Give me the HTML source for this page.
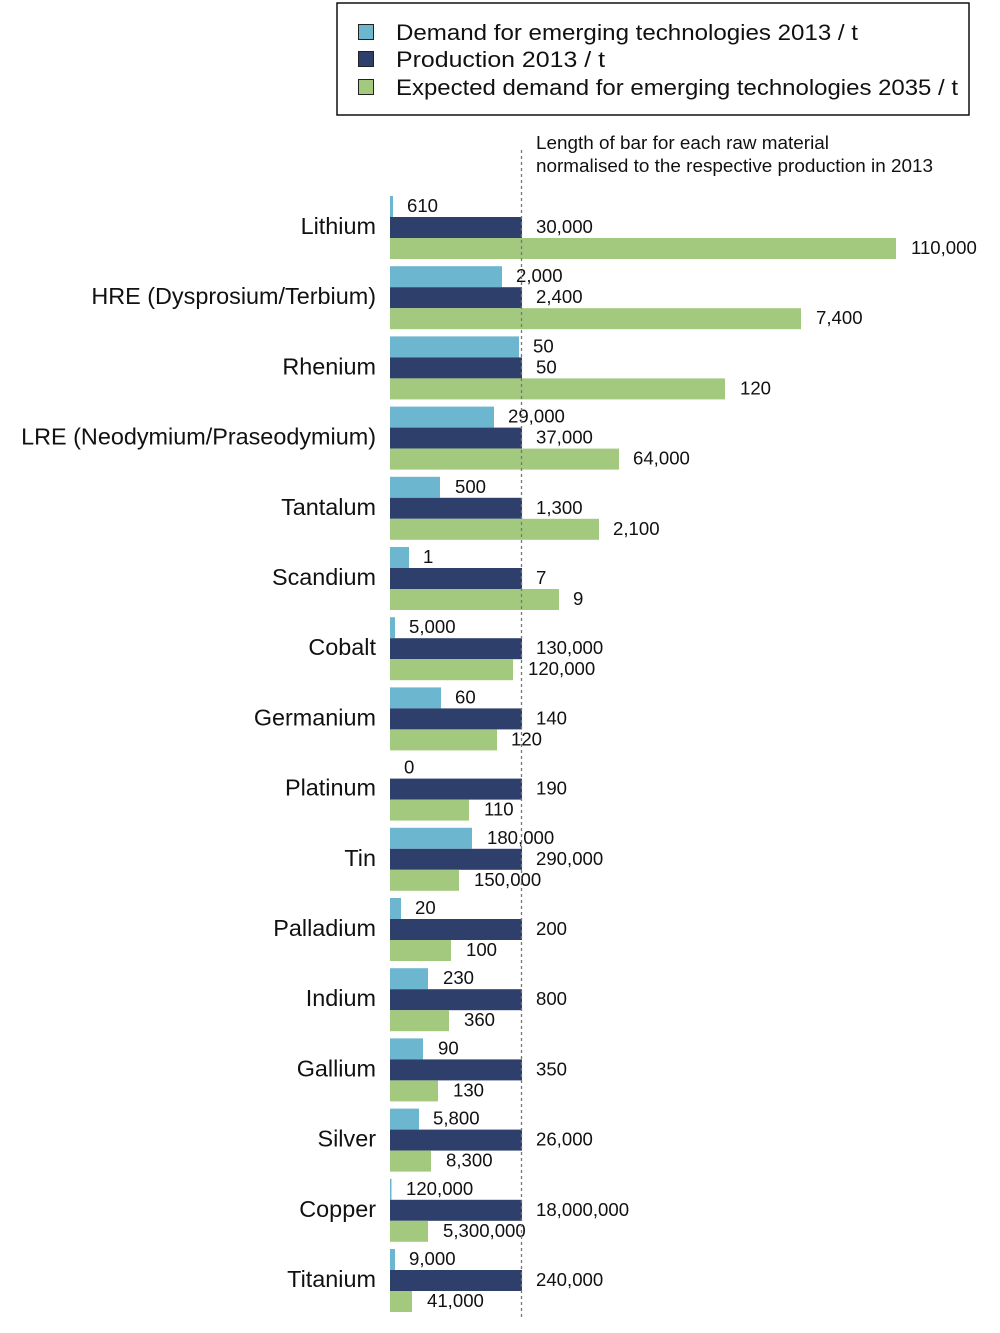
<!DOCTYPE html>
<html><head><meta charset="utf-8"><style>
html,body{margin:0;padding:0;background:#fff;}
svg{display:block;font-family:"Liberation Sans",Arial,sans-serif;}
.c{font-size:23.4px;fill:#111;text-anchor:end;}
.v{font-size:18.6px;fill:#111;}
.l{font-size:22.5px;fill:#111;}
.n{font-size:18.5px;fill:#111;}
</style></head><body>
<svg width="1000" height="1333" viewBox="0 0 1000 1333" xmlns="http://www.w3.org/2000/svg" xml:space="preserve">
<rect x="337" y="3" width="632" height="112" fill="#fff" stroke="#111" stroke-width="1.5"/>
<rect x="358.5" y="24.5" width="15" height="15" fill="#6cb6cf" stroke="#222"/>
<rect x="358.5" y="51.5" width="15" height="15" fill="#2e3f6b" stroke="#222"/>
<rect x="358.5" y="79.5" width="15" height="15" fill="#a3c97f" stroke="#222"/>
<text class="l" x="396" y="40" textLength="462" lengthAdjust="spacingAndGlyphs">Demand for emerging technologies 2013  /  t</text>
<text class="l" x="396" y="67" textLength="209" lengthAdjust="spacingAndGlyphs">Production 2013  /  t</text>
<text class="l" x="396" y="95" textLength="562" lengthAdjust="spacingAndGlyphs">Expected demand for emerging technologies 2035  /  t</text>
<text class="n" x="536" y="149" textLength="293" lengthAdjust="spacingAndGlyphs">Length of bar for each raw material</text>
<text class="n" x="536" y="172" textLength="397" lengthAdjust="spacingAndGlyphs">normalised to the respective production in 2013</text>

<g>
<rect x="390" y="196" width="3" height="21" fill="#6cb6cf"/><rect x="390" y="217" width="132" height="21" fill="#2e3f6b"/><rect x="390" y="238" width="506" height="21" fill="#a3c97f"/>
<text class="c" x="376" y="234">Lithium</text><text class="v" x="407" y="212">610</text><text class="v" x="536" y="233">30,000</text><text class="v" x="911" y="254">110,000</text>

<rect x="390" y="266.2" width="112" height="21" fill="#6cb6cf"/><rect x="390" y="287.2" width="132" height="21" fill="#2e3f6b"/><rect x="390" y="308.2" width="411" height="21" fill="#a3c97f"/>
<text class="c" x="376" y="304.2">HRE (Dysprosium/Terbium)</text><text class="v" x="516" y="282.2">2,000</text><text class="v" x="536" y="303.2">2,400</text><text class="v" x="816" y="324.2">7,400</text>

<rect x="390" y="336.4" width="129" height="21" fill="#6cb6cf"/><rect x="390" y="357.4" width="132" height="21" fill="#2e3f6b"/><rect x="390" y="378.4" width="335" height="21" fill="#a3c97f"/>
<text class="c" x="376" y="374.4">Rhenium</text><text class="v" x="533" y="352.4">50</text><text class="v" x="536" y="373.4">50</text><text class="v" x="740" y="394.4">120</text>

<rect x="390" y="406.6" width="104" height="21" fill="#6cb6cf"/><rect x="390" y="427.6" width="132" height="21" fill="#2e3f6b"/><rect x="390" y="448.6" width="229" height="21" fill="#a3c97f"/>
<text class="c" x="376" y="444.6">LRE (Neodymium/Praseodymium)</text><text class="v" x="508" y="422.6">29,000</text><text class="v" x="536" y="443.6">37,000</text><text class="v" x="633" y="464.6">64,000</text>

<rect x="390" y="476.8" width="50" height="21" fill="#6cb6cf"/><rect x="390" y="497.8" width="132" height="21" fill="#2e3f6b"/><rect x="390" y="518.8" width="209" height="21" fill="#a3c97f"/>
<text class="c" x="376" y="514.8">Tantalum</text><text class="v" x="455" y="492.8">500</text><text class="v" x="536" y="513.8">1,300</text><text class="v" x="613" y="534.8">2,100</text>

<rect x="390" y="547" width="19" height="21" fill="#6cb6cf"/><rect x="390" y="568" width="132" height="21" fill="#2e3f6b"/><rect x="390" y="589" width="169" height="21" fill="#a3c97f"/>
<text class="c" x="376" y="585">Scandium</text><text class="v" x="423" y="563">1</text><text class="v" x="536" y="584">7</text><text class="v" x="573" y="605">9</text>

<rect x="390" y="617.2" width="5" height="21" fill="#6cb6cf"/><rect x="390" y="638.2" width="132" height="21" fill="#2e3f6b"/><rect x="390" y="659.2" width="123" height="21" fill="#a3c97f"/>
<text class="c" x="376" y="655.2">Cobalt</text><text class="v" x="409" y="633.2">5,000</text><text class="v" x="536" y="654.2">130,000</text><text class="v" x="528" y="675.2">120,000</text>

<rect x="390" y="687.4" width="51" height="21" fill="#6cb6cf"/><rect x="390" y="708.4" width="132" height="21" fill="#2e3f6b"/><rect x="390" y="729.4" width="107" height="21" fill="#a3c97f"/>
<text class="c" x="376" y="725.4">Germanium</text><text class="v" x="455" y="703.4">60</text><text class="v" x="536" y="724.4">140</text><text class="v" x="511" y="745.4">120</text>

<rect x="390" y="778.6" width="132" height="21" fill="#2e3f6b"/><rect x="390" y="799.6" width="79" height="21" fill="#a3c97f"/>
<text class="c" x="376" y="795.6">Platinum</text><text class="v" x="404" y="773.6">0</text><text class="v" x="536" y="794.6">190</text><text class="v" x="484" y="815.6">110</text>

<rect x="390" y="827.8" width="82" height="21" fill="#6cb6cf"/><rect x="390" y="848.8" width="132" height="21" fill="#2e3f6b"/><rect x="390" y="869.8" width="69" height="21" fill="#a3c97f"/>
<text class="c" x="376" y="865.8">Tin</text><text class="v" x="487" y="843.8">180,000</text><text class="v" x="536" y="864.8">290,000</text><text class="v" x="474" y="885.8">150,000</text>

<rect x="390" y="898" width="11" height="21" fill="#6cb6cf"/><rect x="390" y="919" width="132" height="21" fill="#2e3f6b"/><rect x="390" y="940" width="61" height="21" fill="#a3c97f"/>
<text class="c" x="376" y="936">Palladium</text><text class="v" x="415" y="914">20</text><text class="v" x="536" y="935">200</text><text class="v" x="466" y="956">100</text>

<rect x="390" y="968.2" width="38" height="21" fill="#6cb6cf"/><rect x="390" y="989.2" width="132" height="21" fill="#2e3f6b"/><rect x="390" y="1010.2" width="59" height="21" fill="#a3c97f"/>
<text class="c" x="376" y="1006.2">Indium</text><text class="v" x="443" y="984.2">230</text><text class="v" x="536" y="1005.2">800</text><text class="v" x="464" y="1026.2">360</text>

<rect x="390" y="1038.4" width="33" height="21" fill="#6cb6cf"/><rect x="390" y="1059.4" width="132" height="21" fill="#2e3f6b"/><rect x="390" y="1080.4" width="48" height="21" fill="#a3c97f"/>
<text class="c" x="376" y="1076.4">Gallium</text><text class="v" x="438" y="1054.4">90</text><text class="v" x="536" y="1075.4">350</text><text class="v" x="453" y="1096.4">130</text>

<rect x="390" y="1108.6" width="29" height="21" fill="#6cb6cf"/><rect x="390" y="1129.6" width="132" height="21" fill="#2e3f6b"/><rect x="390" y="1150.6" width="41" height="21" fill="#a3c97f"/>
<text class="c" x="376" y="1146.6">Silver</text><text class="v" x="433" y="1124.6">5,800</text><text class="v" x="536" y="1145.6">26,000</text><text class="v" x="446" y="1166.6">8,300</text>

<rect x="390" y="1178.8" width="1.5" height="21" fill="#6cb6cf"/><rect x="390" y="1199.8" width="132" height="21" fill="#2e3f6b"/><rect x="390" y="1220.8" width="38" height="21" fill="#a3c97f"/>
<text class="c" x="376" y="1216.8">Copper</text><text class="v" x="406" y="1194.8">120,000</text><text class="v" x="536" y="1215.8">18,000,000</text><text class="v" x="443" y="1236.8">5,300,000</text>

<rect x="390" y="1249" width="5" height="21" fill="#6cb6cf"/><rect x="390" y="1270" width="132" height="21" fill="#2e3f6b"/><rect x="390" y="1291" width="22" height="21" fill="#a3c97f"/>
<text class="c" x="376" y="1287">Titanium</text><text class="v" x="409" y="1265">9,000</text><text class="v" x="536" y="1286">240,000</text><text class="v" x="427" y="1307">41,000</text>
</g>
<line x1="521.5" y1="150" x2="521.5" y2="1318" stroke="#777" stroke-width="1.3" stroke-dasharray="3,3"/>
</svg>
</body></html>
